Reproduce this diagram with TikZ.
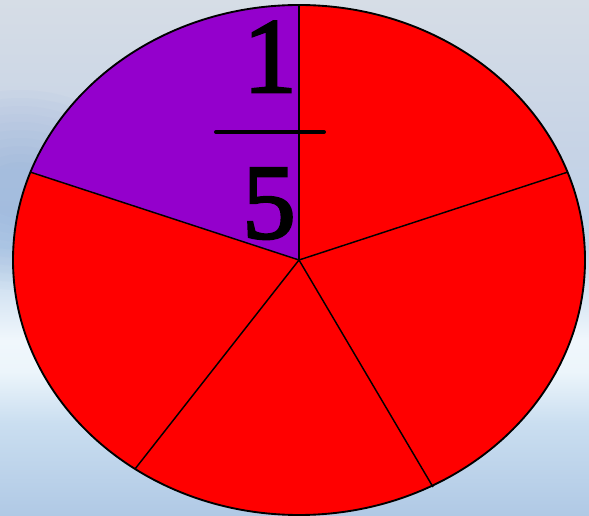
\documentclass[tikz,border=0pt]{standalone}
\usepackage{fontspec}
\setmainfont{Liberation Serif}
\newfontfamily\digitfont[FakeBold=2.5]{Liberation Serif}
\definecolor{skyA}{RGB}{176,201,229}
\definecolor{skyB}{RGB}{202,222,240}
\definecolor{skyC}{RGB}{236,245,251}
\definecolor{skyC2}{RGB}{240,247,252}
\definecolor{skyD}{RGB}{188,210,234}
\definecolor{skyD2}{RGB}{198,211,230}
\definecolor{skyE}{RGB}{214,221,230}
\definecolor{skyBlue}{RGB}{110,150,205}
\definecolor{pieRed}{RGB}{255,0,0}
\definecolor{piePurple}{RGB}{148,0,204}
% the picture spans 25bp (bottom) to 75bp (top) of the shading
\pgfdeclareverticalshading{sky}{100bp}{color(0bp)=(skyA); color(25bp)=(skyA); color(34bp)=(skyB); color(39bp)=(skyC); color(42bp)=(skyC2); color(51bp)=(skyD); color(60bp)=(skyD2); color(75bp)=(skyE); color(100bp)=(skyE)}
\tikzset{
  rim/.style={draw=black, line width=1.4pt},
  spoke/.style={draw=black, line width=1.1pt},
  digit/.style={font=\digitfont\fontsize{80}{80}\selectfont, inner sep=0pt, anchor=base},
  bar/.style={line width=3pt, line cap=round},
  haze/.style={fill=skyBlue, opacity=0.035}
}
\begin{document}
\begin{tikzpicture}[x=0.75pt, y=-0.75pt]
\useasboundingbox (0,0) rectangle (589,516);
\shade[shading=sky] (0,0) rectangle (589,516);
\foreach \r in {1.0,0.92,0.84,0.76,0.68,0.6,0.52,0.44,0.36,0.28} {
  \fill[haze] (20,190) ellipse [x radius=130*\r, y radius=100*\r];
}
\coordinate (C) at (299,260);
\coordinate (T) at (299,5);
\coordinate (R) at (568,172);
\coordinate (BR) at (433,487);
\coordinate (BL) at (135,469);
\coordinate (L) at (30,172);
\fill[pieRed] (299,260) ellipse [x radius=286, y radius=255];
\begin{scope}
  \clip (299,260) ellipse [x radius=286, y radius=255];
  \fill[piePurple] (C) -- (299,-20) -- (-20,-20) -- (-20,155) -- cycle;
\end{scope}
\draw[rim] (299,260) ellipse [x radius=286, y radius=255];
\draw[spoke] (C) -- (T);
\draw[spoke] (C) -- (R);
\draw[spoke] (C) -- (BR);
\draw[spoke] (C) -- (BL);
\draw[spoke] (C) -- (L);
\node[digit] (num) at (270,92) {1};
\coordinate (barL) at (216,132);
\coordinate (barR) at (324,132);
\draw[bar] (barL) -- (barR);
\node[digit] (den) at (269,238) {5};
\end{tikzpicture}
\end{document}
